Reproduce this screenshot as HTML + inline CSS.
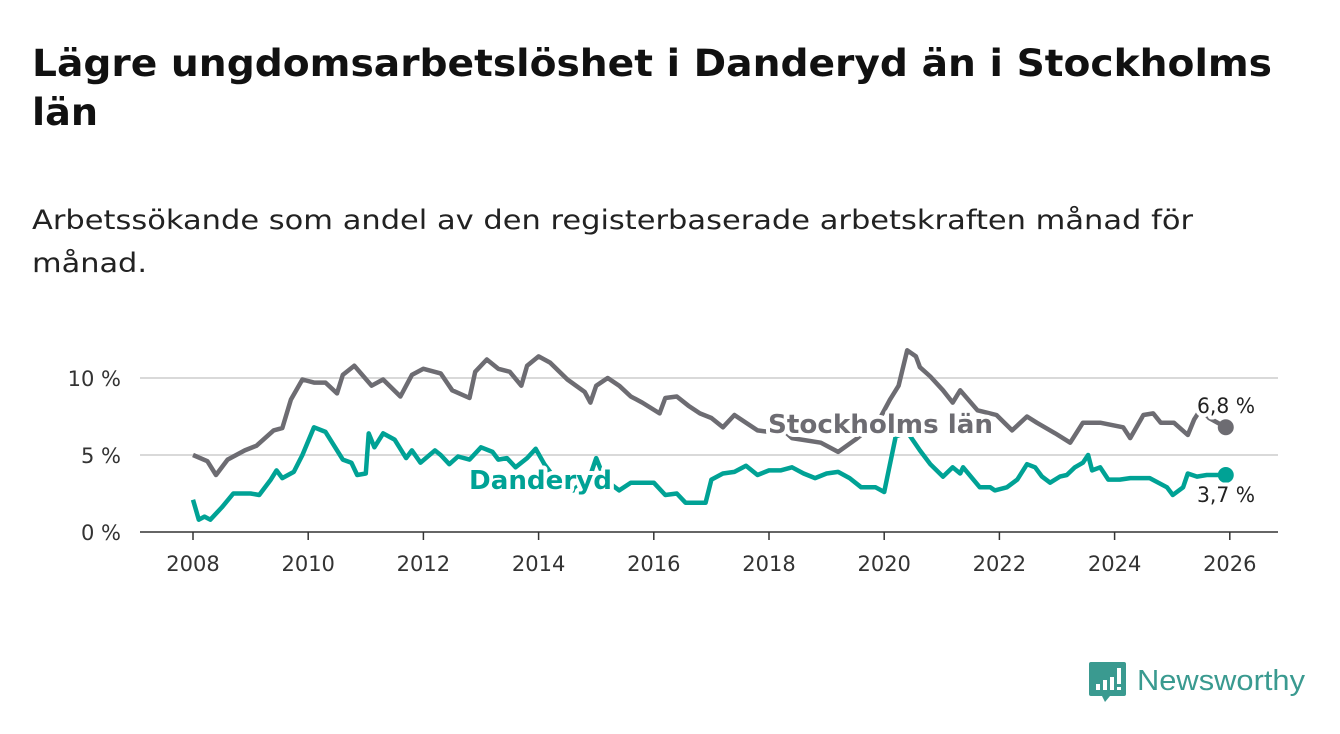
<!DOCTYPE html>
<html><head><meta charset="utf-8">
<style>
body{margin:0;background:#fff;width:1340px;height:734px;overflow:hidden;font-family:"DejaVu Sans","Liberation Sans",sans-serif;}
svg{position:absolute;left:0;top:0;}
</style></head><body>
<svg id="chart" width="1340" height="734" font-family="DejaVu Sans, Liberation Sans, sans-serif">
<g font-weight="bold" font-size="37" fill="#111">
<text x="32" y="76" textLength="1240" lengthAdjust="spacingAndGlyphs">Lägre ungdomsarbetslöshet i Danderyd än i Stockholms</text>
<text x="32" y="125" textLength="66" lengthAdjust="spacingAndGlyphs">län</text>
</g>
<g font-size="27" fill="#222">
<text x="32" y="229" textLength="1161" lengthAdjust="spacingAndGlyphs">Arbetssökande som andel av den registerbaserade arbetskraften månad för</text>
<text x="32" y="272" textLength="115" lengthAdjust="spacingAndGlyphs">månad.</text>
</g>
</svg>
<script>
const yTicks=[0,5,10];
const yTickLabels=["0 %","5 %","10 %"];
const xTicks=[2008,2010,2012,2014,2016,2018,2020,2022,2024,2026];
const sthlmYears=[2008.0,2008.25,2008.4,2008.6,2008.9,2009.1,2009.4,2009.55,2009.7,2009.9,2010.1,2010.3,2010.5,2010.6,2010.8,2011.1,2011.3,2011.6,2011.8,2012.0,2012.3,2012.5,2012.8,2012.9,2013.1,2013.3,2013.5,2013.7,2013.8,2014.0,2014.2,2014.5,2014.8,2014.9,2015.0,2015.2,2015.4,2015.6,2015.8,2016.1,2016.2,2016.4,2016.6,2016.8,2017.0,2017.2,2017.4,2017.6,2017.8,2018.0,2018.2,2018.4,2018.9,2019.2,2019.5,2019.9,2020.1,2020.25,2020.4,2020.55,2020.62,2020.8,2021.02,2021.19,2021.32,2021.62,2021.95,2022.22,2022.48,2022.65,2022.97,2023.23,2023.45,2023.75,2024.15,2024.27,2024.5,2024.67,2024.8,2025.03,2025.27,2025.38,2025.5,2025.64,2025.93];
const sthlmValues=[5.0,4.6,3.7,4.7,5.3,5.6,6.6,6.75,8.6,9.9,9.7,9.7,9.0,10.2,10.8,9.5,9.9,8.8,10.2,10.6,10.3,9.2,8.7,10.4,11.2,10.6,10.4,9.5,10.8,11.4,11.0,9.9,9.1,8.4,9.5,10.0,9.5,8.8,8.4,7.7,8.7,8.8,8.2,7.7,7.4,6.8,7.6,7.1,6.6,6.5,6.8,6.1,5.8,5.2,6.0,7.2,8.6,9.5,11.8,11.4,10.7,10.1,9.2,8.4,9.2,7.9,7.6,6.6,7.5,7.1,6.4,5.8,7.1,7.1,6.8,6.1,7.6,7.7,7.1,7.1,6.3,7.3,8.0,7.4,6.8];
const dandYears=[2008.0,2008.1,2008.2,2008.3,2008.5,2008.7,2009.0,2009.15,2009.35,2009.45,2009.55,2009.75,2009.9,2010.1,2010.3,2010.6,2010.75,2010.85,2011.0,2011.05,2011.15,2011.3,2011.5,2011.7,2011.8,2011.95,2012.2,2012.3,2012.45,2012.6,2012.8,2013.0,2013.2,2013.3,2013.45,2013.6,2013.8,2013.95,2014.1,2014.3,2014.6,2014.9,2015.0,2015.15,2015.4,2015.6,2016.0,2016.2,2016.4,2016.55,2016.9,2017.0,2017.2,2017.4,2017.6,2017.8,2018.0,2018.2,2018.4,2018.6,2018.8,2019.0,2019.2,2019.4,2019.6,2019.85,2020.0,2020.2,2020.4,2020.62,2020.8,2021.02,2021.19,2021.32,2021.37,2021.66,2021.84,2021.92,2022.13,2022.31,2022.48,2022.62,2022.74,2022.88,2023.05,2023.17,2023.31,2023.45,2023.54,2023.61,2023.75,2023.89,2024.09,2024.27,2024.61,2024.91,2025.01,2025.19,2025.27,2025.43,2025.6,2025.93];
const dandValues=[2.1,0.8,1.0,0.8,1.6,2.5,2.5,2.4,3.4,4.0,3.5,3.9,5.0,6.8,6.5,4.7,4.5,3.7,3.8,6.4,5.5,6.4,6.0,4.8,5.3,4.5,5.3,5.0,4.4,4.9,4.7,5.5,5.2,4.7,4.8,4.2,4.8,5.4,4.4,3.4,2.7,3.7,4.8,3.4,2.7,3.2,3.2,2.4,2.5,1.9,1.9,3.4,3.8,3.9,4.3,3.7,4.0,4.0,4.2,3.8,3.5,3.8,3.9,3.5,2.9,2.9,2.6,6.2,6.5,5.3,4.4,3.6,4.2,3.8,4.2,2.9,2.9,2.7,2.9,3.4,4.4,4.2,3.6,3.2,3.6,3.7,4.2,4.5,5.0,4.0,4.2,3.4,3.4,3.5,3.5,2.9,2.4,2.9,3.8,3.6,3.7,3.7];

const NS='http://www.w3.org/2000/svg';
const svg=document.getElementById('chart');
const X=t=>193+57.6*(t-2008);
const Y=v=>532-15.4*v;
function el(tag,attrs,parent){const e=document.createElementNS(NS,tag);for(const k in attrs)e.setAttribute(k,attrs[k]);(parent||svg).appendChild(e);return e;}
yTicks.forEach((v,i)=>{
  if(v>0){const g=el('line',{x1:140,x2:1278,y1:Y(v),y2:Y(v),stroke:'#d9d9d9','stroke-width':2});
  
  }
  const t=el('text',{x:121,y:Y(v)+8,'text-anchor':'end','font-size':21,fill:'#333'});
  t.textContent=yTickLabels[i];
  
  
});
const ax=el('line',{x1:140,x2:1278,y1:532,y2:532,stroke:'#333','stroke-width':1.5});


xTicks.forEach(yr=>{
  const tk=el('line',{x1:X(yr),x2:X(yr),y1:532,y2:540,stroke:'#333','stroke-width':1.5});
  
  
  const t=el('text',{x:X(yr),y:571,'text-anchor':'middle','font-size':21,fill:'#333'});
  t.textContent=yr;
  
  
});
function series(xs,vs,color,name){
  const d=xs.map((t,i)=>(i?'L':'M')+X(t).toFixed(1)+','+Y(vs[i]).toFixed(1)).join('');
  const p=el('path',{d:d,fill:'none',stroke:color,'stroke-width':4.5,'stroke-linejoin':'round'});
  
  
  const n=xs.length-1;
  const c=el('circle',{cx:X(xs[n]),cy:Y(vs[n]),r:8,fill:color});
  
  
}
series(sthlmYears,sthlmValues,'#6d6c72','stockholm');
series(dandYears,dandValues,'#00a295','danderyd');
function lab(x,y,txt,color,size,weight,name,w){
  const t=el('text',{x:x,y:y,'font-size':size,'font-weight':weight,fill:color,stroke:'#fff','stroke-width':8,'paint-order':'stroke','stroke-linejoin':'round',textLength:w,lengthAdjust:'spacingAndGlyphs'});
  t.textContent=txt;
  
  
}
lab(768,433,'Stockholms län','#6d6c72',26,'bold','stockholm-label',225);
lab(469,489,'Danderyd','#00a295',26,'bold','danderyd-label',143);
const n1=sthlmValues.length-1,n2=dandValues.length-1;
lab(1197,413,sthlmValues[n1].toFixed(1).replace('.',',')+' %','#222',21,'normal','stockholm-value-label',58);
lab(1197,502,dandValues[n2].toFixed(1).replace('.',',')+' %','#222',21,'normal','danderyd-value-label',58);
// logo
const g=el('g',{});


el('path',{d:'M1091,662 h33 a2,2 0 0 1 2,2 v30 a2,2 0 0 1 -2,2 h-14 l-5,6 l-3,-6 h-11 a2,2 0 0 1 -2,-2 v-30 a2,2 0 0 1 2,-2z',fill:'#3a9a90'},g);
el('rect',{x:1096,y:684,width:4,height:6,fill:'#fff'},g);
el('rect',{x:1103,y:680,width:4,height:10,fill:'#fff'},g);
el('rect',{x:1110,y:677,width:4,height:13,fill:'#fff'},g);
el('rect',{x:1117,y:668,width:4,height:16,fill:'#fff'},g);
el('rect',{x:1117,y:687,width:4,height:3,fill:'#fff'},g);
const lt=el('text',{x:1137,y:690,'font-size':29,fill:'#3a9a90',textLength:168,lengthAdjust:'spacingAndGlyphs','font-family':'Liberation Sans, sans-serif'},g);
lt.textContent='Newsworthy';
</script>
</body></html>
